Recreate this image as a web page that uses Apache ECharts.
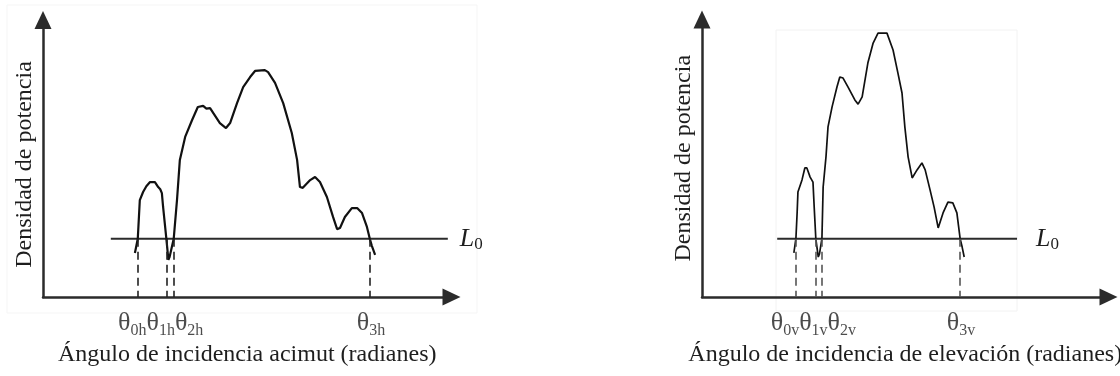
<!DOCTYPE html>
<html>
<head>
<meta charset="utf-8">
<script src="https://cdn.jsdelivr.net/npm/echarts@6/dist/echarts.min.js"></script>
<style>
  html, body { margin: 0; padding: 0; background: #fff; }
  #chart { width: 1120px; height: 376px; }
</style>
</head>
<body>
<div id="chart"></div>
<script>
// Power density vs. azimuth angle of incidence: [angle, density]
const azimuthCurve = [
  [22.5, 15.9], [23.2, 21.0], [23.7, 35.0], [24.5, 37.9], [25.3, 40.0], [26.2, 41.5],
  [27.4, 41.5], [28.2, 39.7], [28.7, 38.9], [29.1, 37.5], [29.4, 32.5], [30.2, 21.0],
  [30.7, 13.4], [31.0, 14.5], [32.0, 21.0], [32.8, 35.0], [33.5, 49.5], [34.8, 57.8],
  [36.5, 63.9], [37.9, 68.6], [39.2, 69.0], [40.0, 68.0], [40.9, 68.2], [43.3, 62.8],
  [44.8, 61.0], [45.8, 62.8], [47.5, 70.0], [49.0, 75.8], [50.7, 79.4], [51.9, 81.6],
  [54.3, 81.9], [55.1, 81.2], [56.8, 77.3], [58.8, 70.0], [60.9, 59.2], [62.2, 49.5],
  [62.9, 39.7], [63.6, 39.4], [65.4, 42.2], [66.6, 43.3], [67.8, 41.5], [69.5, 36.1],
  [71.0, 28.9], [72.0, 24.5], [72.7, 24.9], [73.9, 28.9], [75.6, 32.1], [76.9, 32.1],
  [78.1, 30.3], [79.3, 25.3], [80.0, 21.0], [80.5, 18.5], [81.3, 15.2]
];
// Power density vs. elevation angle of incidence: [angle, density]
const elevationCurve = [
  [22.6, 15.9], [23.1, 21.0], [23.4, 30.3], [23.6, 37.8], [24.6, 42.2], [25.3, 46.5],
  [25.8, 46.5], [26.6, 43.2], [27.3, 41.4], [27.6, 32.4], [28.0, 21.0], [28.6, 14.4],
  [28.9, 15.5], [29.5, 21.0], [29.8, 39.6], [30.5, 50.5], [31.0, 61.3], [32.0, 68.5],
  [33.2, 75.7], [33.9, 79.3], [34.7, 78.9], [35.9, 75.7], [37.6, 71.0], [38.4, 69.5],
  [39.4, 72.1], [40.8, 84.3], [42.1, 91.5], [43.3, 95.1], [45.5, 95.1], [47.0, 89.0],
  [48.2, 80.7], [49.2, 73.5], [49.9, 61.3], [50.7, 50.5], [51.7, 42.9], [52.9, 45.8],
  [54.1, 48.3], [54.9, 45.8], [56.1, 38.6], [57.1, 32.4], [58.1, 24.9], [59.3, 30.3],
  [60.5, 34.2], [61.7, 33.9], [62.7, 30.3], [63.5, 21.0], [64.0, 18.0], [64.5, 14.4]
];

// Threshold level L0 and the angles where each curve crosses it
const thresholdLevel = 21;
const azimuthCrossings = [23.2, 30.2, 32.0, 80.0];
const elevationCrossings = [23.1, 28.0, 29.5, 63.5];
// Extent of the threshold line along each angle axis
const azimuthThresholdSpan = [16.6, 99.1];
const elevationThresholdSpan = [18.5, 77.5];

// Crossing-angle labels (subscripts)
const azimuthSubs = ['0h', '1h', '2h', '3h'];
const elevationSubs = ['0v', '1v', '2v', '3v'];
// Label anchors: the first three share one run of text, the fourth stands alone
const azimuthLabelAnchors = [28.8, 80.3];
const elevationLabelAnchors = [27.4, 63.7];

const axisNamesX = ['Ángulo de incidencia acimut (radianes)', 'Ángulo de incidencia de elevación (radianes)'];
const axisNameY = 'Densidad de potencia';

const SERIF = '"Liberation Serif", "DejaVu Serif", serif';
const INK = '#1e1e1e';

const thetaRich = {
  t: { fontFamily: SERIF, fontSize: 26, color: INK, lineHeight: 26, verticalAlign: 'top' },
  s: { fontFamily: SERIF, fontSize: 16, color: INK, lineHeight: 16, padding: [13, 0, 0, 0], verticalAlign: 'top' }
};
const theta = s => `{t|θ}{s|${s}}`;

function axisPair(gridIndex, xName, yPad) {
  const line = { show: true, symbol: ['none', 'triangle'], symbolSize: [17, 18],
                 lineStyle: { color: '#2b2b2b', width: 2.5 } };
  return {
    x: {
      type: 'value', gridIndex, min: 0, max: 100,
      axisLine: line, axisTick: { show: false }, axisLabel: { show: false }, splitLine: { show: false },
      name: xName, nameLocation: 'middle', nameGap: 46,
      nameTextStyle: { fontFamily: SERIF, fontSize: 24, color: INK }
    },
    y: {
      type: 'value', gridIndex, min: 0, max: 100,
      axisLine: line, axisTick: { show: false }, axisLabel: { show: false }, splitLine: { show: false },
      name: axisNameY, nameLocation: 'middle', nameRotate: 90, nameGap: 6,
      nameTextStyle: { fontFamily: SERIF, fontSize: 24, color: INK, padding: [0, yPad, 0, 0] }
    }
  };
}

const a0 = axisPair(0, axisNamesX[0], 12);
const a1 = axisPair(1, axisNamesX[1], 0);

function panelSeries(idx, curve, crossings, span, subs, anchors, curveWidth, dashColor, l0Gap) {
  return [
    {
      type: 'line', xAxisIndex: idx, yAxisIndex: idx, data: curve, showSymbol: false,
      lineStyle: { color: '#111', width: curveWidth }, animation: false, silent: true, z: 3,
      markLine: {
        silent: true, symbol: 'none', animation: false,
        label: { show: false },
        lineStyle: { type: [8, 5], color: dashColor, width: 1.6 },
        data: crossings.map(c => [{ coord: [c, thresholdLevel] }, { coord: [c, 0] }])
      }
    },
    {
      type: 'line', xAxisIndex: idx, yAxisIndex: idx,
      data: span.map(x => [x, thresholdLevel]), showSymbol: false,
      lineStyle: { color: '#2b2b2b', width: 2 }, animation: false, silent: true, z: 2,
      endLabel: {
        show: true, distance: l0Gap, formatter: '{l|L}{z|0}',
        rich: {
          l: { fontFamily: SERIF, fontStyle: 'italic', fontSize: 26, color: INK, lineHeight: 26, verticalAlign: 'top' },
          z: { fontFamily: SERIF, fontSize: 17, color: INK, lineHeight: 17, padding: [10, 0, 0, 0], verticalAlign: 'top' }
        }
      }
    },
    {
      type: 'scatter', xAxisIndex: idx, yAxisIndex: idx, symbolSize: 0, clip: false,
      animation: false, silent: true,
      data: [
        { value: [anchors[0], 0], label: { formatter: subs.slice(0, 3).map(theta).join('') } },
        { value: [anchors[1], 0], label: { formatter: theta(subs[3]) } }
      ],
      label: { show: true, position: 'bottom', distance: 13, rich: thetaRich }
    }
  ];
}

const chart = echarts.init(document.getElementById('chart'), null, { renderer: 'canvas' });
chart.setOption({
  backgroundColor: '#ffffff',
  animation: false,
  grid: [
    { left: 43, top: 20, width: 408.5, height: 277, containLabel: false, outerBoundsMode: 'none' },
    { left: 702, top: 19.5, width: 406.5, height: 277.5, containLabel: false, outerBoundsMode: 'none' }
  ],
  xAxis: [a0.x, a1.x],
  yAxis: [a0.y, a1.y],
  graphic: [
    { type: 'rect', silent: true, z: -1, shape: { x: 7, y: 5, width: 470, height: 308 },
      style: { fill: 'none', stroke: '#f5f5f5', lineWidth: 1 } },
    { type: 'rect', silent: true, z: -1, shape: { x: 776, y: 30, width: 241, height: 281 },
      style: { fill: 'none', stroke: '#f2f2f2', lineWidth: 1 } }
  ],
  series: [
    ...panelSeries(0, azimuthCurve, azimuthCrossings, azimuthThresholdSpan, azimuthSubs, azimuthLabelAnchors, 2.2, '#222', 12),
    ...panelSeries(1, elevationCurve, elevationCrossings, elevationThresholdSpan, elevationSubs, elevationLabelAnchors, 1.7, '#555', 19)
  ]
});
</script>
</body>
</html>
